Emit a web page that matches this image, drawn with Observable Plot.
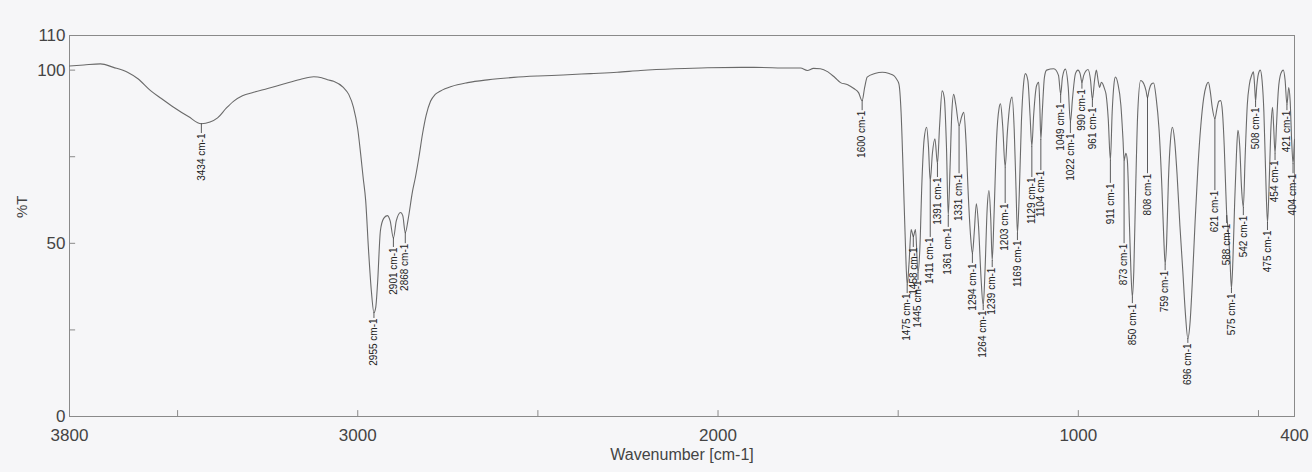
<!DOCTYPE html>
<html><head><meta charset="utf-8">
<script src="https://cdn.jsdelivr.net/npm/d3@7"></script>
<script src="https://cdn.jsdelivr.net/npm/@observablehq/plot@0.6"></script>
<style>
html,body{margin:0;padding:0;background:#f6f6f8;}
#chart{width:1312px;height:472px;}
</style></head><body><div id="chart"></div>
<script>
// IR spectrum (wavenumber in cm-1, %T)
const wavenumber = [
3800,3760,3714,3678,3639,3610,3575,3545,3511,3470,3434,3410,3389,3365,3345,3320,3289,3250,3206,3160,3122,3100,3084,3067,3040,3025,3012,3000,2992,2985,2978,2970,2962,2955,2950,2945,2937,2928,2918,2910,2901,2893,2881,2875,2868,2860,2848,2840,2830,2820,2810,2798,2785,2770,2740,2695,2640,2567,2500,2430,2354,2280,2215,2120,2029,1900,1800,1771,1752,1735,1716,1695,1675,1660,1640,1623,1610,1600,1593,1586,1565,1544,1525,1512,1505,1498,1492,1486,1480,1475,1470,1464,1458,1452,1445,1440,1434,1428,1421,1416,1411,1405,1398,1391,1385,1378,1372,1366,1361,1356,1351,1346,1340,1331,1324,1318,1312,1305,1299,1294,1289,1283,1277,1270,1264,1259,1253,1248,1243,1239,1234,1227,1220,1216,1210,1203,1197,1190,1184,1178,1173,1169,1164,1158,1152,1147,1140,1134,1129,1124,1116,1110,1107,1104,1100,1094,1088,1068,1055,1049,1044,1036,1028,1022,1016,1008,1001,995,990,985,973,966,961,955,950,945,941,936,932,927,923,917,911,906,901,897,890,882,876,873,868,864,858,854,850,846,841,835,827,818,812,808,804,797,791,784,776,768,763,759,755,750,744,739,733,726,718,710,703,696,690,684,676,668,660,652,645,639,634,628,621,615,610,605,600,595,591,588,584,579,575,571,566,561,557,552,547,542,537,531,525,519,514,511,508,505,500,495,490,485,480,475,471,466,461,458,454,450,445,438,431,426,421,416,412,408,404,401,400];
const transmittance = [
101.2,101.5,101.8,100.8,99.4,97.5,94.1,91.8,89.3,86.6,84.5,85.0,86.2,89.0,91.0,92.6,93.6,94.7,96.0,97.3,98.1,97.8,97.2,96.8,95.0,93.0,89.3,83,75.9,69,62.4,48,36,30,31.5,38.4,53.7,57.2,58,56.5,51.5,56.5,58.9,58,53,57,65,69,75,81.7,87,91,93,94,95.3,96.4,97.2,97.9,98.3,98.6,99,99.4,99.9,100.4,100.7,100.8,100.6,100.6,99.9,100.5,100.4,99.5,97.8,96.4,95.8,94.7,93.5,91.2,95,98,99,99.4,99.0,98.4,97.5,96,88,70,50,38,44,54,52,54,41.5,48,68,80,83.5,78,68,76,80.2,73,84,94,92,78,58,72,88,93,90,84,86.5,87.8,80,63,52,47,53,61.4,55,40,32,42,60,65.2,57,45,58,80,89,90.3,84,72,82,90,92.2,83,66,53,64,85,96,99,97,87,78,87,95.5,96.5,90,80,88,98,100,100.4,98.5,93,98,100.3,95,85,92,99,100,99,96.5,98.5,100.2,97,91.5,97,100,97,95,96.5,96,94.5,93,86,74,88,96,98,96,90,80,74,76,74,55,42,34.5,42,65,88,97,96,94,92,94,96,96.3,92,83,66,52,44,50,68,80,83.5,80,70,55,42,30,22.5,27,38,56,72,84,92,95.5,96.5,94,89,86,89,91,91.2,88,78,66,58,54,45,37,45,62,76,82.6,78,66,60.4,75,90,96,98.5,99.5,96,91,95,99,100,97,88,70,56,65,82,89.3,84,76,84,94,99,100,97,90,95,91,80,73,78,80];

// Labelled peaks and the %T level where each label's text begins
const peakWavenumbers = [3434,2955,2901,2868,1600,1475,1458,1445,1411,1391,1361,1331,1294,1264,1239,1203,1169,1129,1104,1049,1022,990,961,911,873,850,808,759,696,621,588,575,542,508,475,454,421,404];
const labelLevel = [81.7,28.3,48.8,49.9,88.3,35.5,48.8,39.3,51.7,69,54.6,70.1,44.2,30.6,43,61.5,50.8,69,71,90.4,81.7,94.5,89.2,67.3,49.9,32.6,70.1,42.1,21.1,65.2,55.7,35.5,58,89.2,53.7,73.9,88.3,70.1];

const xTickLabels = [3800, 3000, 2000, 1000, 400];
const xMinorTicks = [3500, 3000, 2500, 2000, 1500, 1000, 500];
const yTickLabels = [0, 50, 100, 110];
const yMinorTicks = [25, 50, 75, 100];

const spectrum = wavenumber.map((w, i) => ({w, t: transmittance[i]}));
const tipOf = w => spectrum.find(d => d.w === w).t;
const peaks = peakWavenumbers.map((w, i) => ({w, tip: tipOf(w), level: labelLevel[i]}));

const chart = Plot.plot({
  width: 1312,
  height: 472,
  marginLeft: 69,
  marginRight: 18,
  marginTop: 35,
  marginBottom: 56,
  style: {fontFamily: "'Liberation Sans', Arial, sans-serif", fontSize: "17px", color: "#444", background: "#f6f6f8"},
  x: {domain: [3800, 400]},
  y: {domain: [0, 110]},
  marks: [
    Plot.frame({stroke: "#8a8a8a"}),
    Plot.ruleX(xMinorTicks, {x: d => d, y1: 0, y2: 1.7, stroke: "#8a8a8a"}),
    Plot.ruleY(yMinorTicks, {y: d => d, x1: 3800, x2: 3783, stroke: "#8a8a8a"}),
    Plot.axisX({ticks: xTickLabels, tickFormat: d => String(d), tickSize: 0, tickPadding: 12, label: null, fontSize: 17}),
    Plot.axisY({ticks: yTickLabels, tickFormat: d => String(d), tickSize: 0, tickPadding: 4, label: null, fontSize: 17}),
    Plot.text(["Wavenumber [cm-1]"], {frameAnchor: "bottom", dy: 43, fontSize: 16, fill: "#444"}),
    Plot.text(["%T"], {frameAnchor: "left", dx: -47, dy: -8, rotate: -90, fontSize: 15, fill: "#444"}),
    Plot.line(spectrum, {x: "w", y: "t", stroke: "#6a6a6a", strokeWidth: 1.1, curve: "monotone-x"}),
    Plot.ruleX(peaks, {x: "w", y1: "tip", y2: "level", stroke: "#333", strokeWidth: 0.8}),
    Plot.text(peaks, {x: "w", y: "level", text: d => `${d.w} cm-1`, rotate: -90, textAnchor: "end", fontSize: 10, fill: "#222"})
  ]
});
document.getElementById("chart").appendChild(chart);
</script>
</body></html>
